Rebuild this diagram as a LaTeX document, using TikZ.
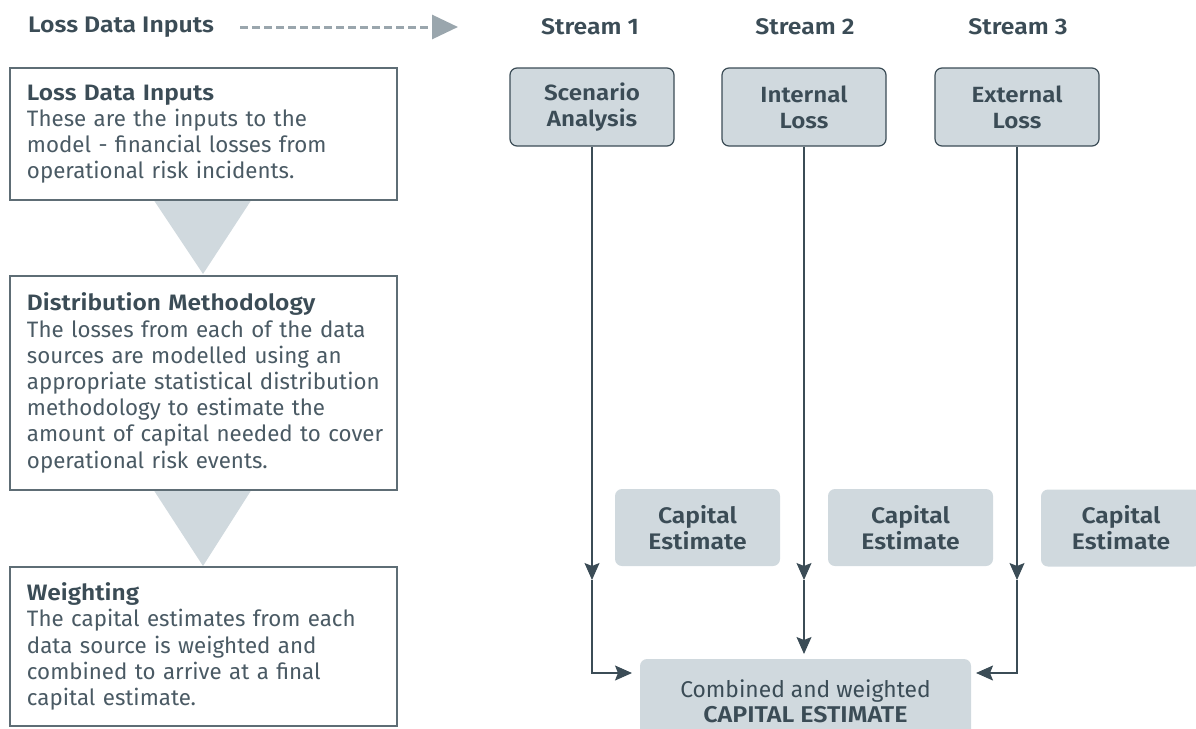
\documentclass[tikz,border=0pt]{standalone}
\usepackage{fontspec}
\setmainfont{Fira Sans}[BoldFont={Fira Sans SemiBold}, BoldFeatures={FakeStretch=1.1}]
\usetikzlibrary{arrows.meta,calc}
\definecolor{ink}{HTML}{3B4C56}
\definecolor{bodyink}{HTML}{4A5A64}
\definecolor{pale}{HTML}{D0D9DE}
\definecolor{frame}{HTML}{5E6D75}
\definecolor{dashgray}{HTML}{9AA6AD}
\begin{document}
\begin{tikzpicture}[x=1pt,y=-1pt,
  hdr/.style={font=\fontsize{22.5}{26}\selectfont\bfseries, text=ink, inner sep=0pt},
  srcbox/.style={draw=ink, line width=1.2pt, fill=pale, rounded corners=7pt,
    minimum width=164pt, minimum height=78pt, align=center,
    font=\fontsize{22}{26}\selectfont\bfseries, text=ink, inner sep=0pt},
  capbox/.style={fill=pale, rounded corners=7pt, minimum width=165pt,
    minimum height=77pt, align=center,
    font=\fontsize{22.5}{26}\selectfont\bfseries, text=ink, inner sep=0pt},
  infobox/.style={draw=frame, line width=1.3pt, fill=white, minimum width=387pt,
    text width=353pt, align=left, inner xsep=17pt, inner ysep=0pt,
    font=\fontsize{22.3}{26.2}\selectfont, text=bodyink},
  combox/.style={fill=pale, rounded corners=7pt, minimum width=331pt,
    minimum height=85pt, align=center, font=\fontsize{22.8}{25}\selectfont,
    text=ink, inner sep=0pt},
  arr/.style={draw=ink, line width=1.2pt, -{Stealth[length=17pt,width=15pt,inset=3pt]}},
  tri/.style={fill=pale, draw=none}
]
\useasboundingbox (0,0) rectangle (1196,728);

% header row
\node[hdr, anchor=west] (hdr) at (28,27) {Loss Data Inputs};
\node[hdr] (s1) at (590,27) {Stream 1};
\node[hdr] (s2) at (805,27) {Stream 2};
\node[hdr] (s3) at (1018,27) {Stream 3};
\coordinate (dstart) at (240,27);
\coordinate (dend) at (458,27);
\draw[dashgray, line width=3pt, dash pattern=on 8pt off 4pt,
  -{Triangle[length=26pt,width=24pt]}] (dstart) -- (dend);

% left column
\fill[tri] (153,199) -- (252,199) -- (203,274) -- cycle;
\fill[tri] (153,489) -- (252,489) -- (203,566) -- cycle;
\node[infobox, minimum height=132pt] (b1) at (203.5,134)
  {{\bfseries\color{ink}Loss Data Inputs}\\These are the inputs to the\\model - financial losses from\\operational risk incidents.};
\node[infobox, minimum height=214pt] (b2) at (203.5,383)
  {{\bfseries\color{ink}Distribution Methodology}\\\mbox{The losses from each of the data}\\\mbox{sources are modelled using an}\\\mbox{appropriate statistical distribution}\\\mbox{methodology to estimate the}\\\mbox{amount of capital needed to cover}\\\mbox{operational risk events.}};
\node[infobox, minimum height=159pt] (b3) at (203.5,646.5)
  {{\bfseries\color{ink}Weighting}\\The capital estimates from each\\data source is weighted and\\combined to arrive at a final\\capital estimate.};

% source boxes
\node[srcbox] (sa) at (592,107) {Scenario\\Analysis};
\node[srcbox] (il) at (804,107) {Internal\\Loss};
\node[srcbox] (el) at (1017,107) {External\\Loss};

% capital estimate boxes
\node[capbox] (c1) at (697.5,527.5) {Capital\\Estimate};
\node[capbox] (c2) at (910.5,527.5) {Capital\\Estimate};
\node[capbox, minimum width=160pt] (c3) at (1121,528) {Capital\\Estimate};

% combined box
\node[combox] (cb) at (805.5,701.5) {Combined and weighted\\\textbf{CAPITAL ESTIMATE}};

% connectors
\coordinate (j1) at (592,580);
\coordinate (j2) at (804,580);
\coordinate (j3) at (1017,580);
\coordinate (e1) at (632,673);
\coordinate (e2) at (804,654);
\coordinate (e3) at (976,673);
\draw[arr] (sa.south) -- (j1);
\draw[arr] (j1) |- (e1);
\draw[arr] (il.south) -- (j2);
\draw[arr] (j2) -- (e2);
\draw[arr] (el.south) -- (j3);
\draw[arr] (j3) |- (e3);
\end{tikzpicture}
\end{document}
